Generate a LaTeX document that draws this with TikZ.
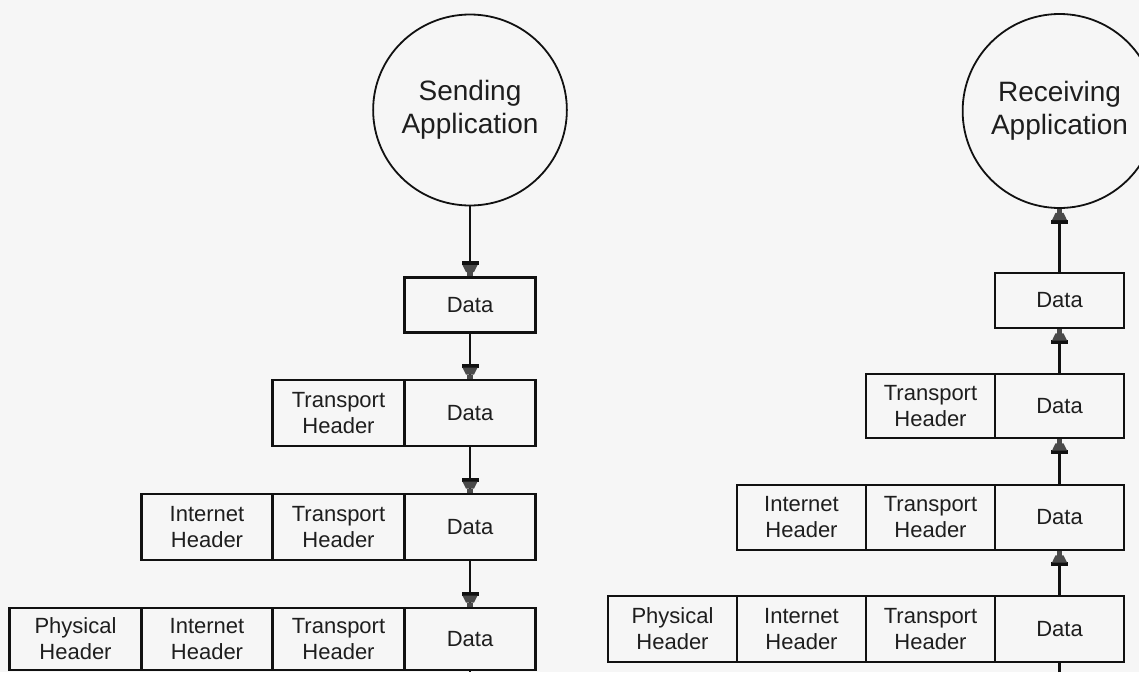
\documentclass[tikz,border=0pt]{standalone}
\usepackage{fontspec}
\setmainfont{Liberation Sans}
\usetikzlibrary{shapes.geometric}
\definecolor{linecol}{HTML}{111111}
\definecolor{txtcol}{HTML}{1E1E1E}
\definecolor{headgray}{HTML}{4A4A4A}
\definecolor{paper}{HTML}{F6F6F6}
\begin{document}
\begin{tikzpicture}[x=1pt,y=-1pt,
  cell/.style={draw=linecol, line width=2.6pt, rectangle, minimum height=66pt,
    inner sep=0pt, text=txtcol, font=\fontsize{22}{26}\selectfont, align=center},
  lcell/.style={cell, minimum width=131.5pt},
  rcell/.style={cell, minimum width=129pt},
  dcell/.style={minimum height=55pt},
  app/.style={ellipse, draw=linecol, line width=1.8pt, inner sep=0pt,
    text=txtcol, font=\fontsize{28}{33}\selectfont, align=center},
  conn/.style={draw=linecol, line width=2.4pt},
  ahead/.pic={
    \fill[linecol] (-15pt,-8.5pt) rectangle (-11pt,8.5pt);
    \fill[headgray] (-11.2pt,-7.5pt) -- (-11.2pt,7.5pt) -- (-4pt,4pt) -- (-4pt,-4pt) -- cycle;
    \fill[headgray] (-4.2pt,-2.6pt) rectangle (0pt,2.6pt);
  }
]
\useasboundingbox (0,0) rectangle (1139,672);
\fill[paper] (0,0) rectangle (1139,672);

% applications
\node[app, minimum width=172pt, minimum height=191pt] (send) at (470,110) {Sending\\Application};
\node[app, minimum width=166pt, minimum height=194pt] (recv) at (1059.5,111) {Receiving\\Application};

% left column (sending side)
\node[lcell, dcell] (l1d) at (470,305) {Data};
\node[lcell] (l2t) at (338.5,413) {Transport\\Header};
\node[lcell] (l2d) at (470,413) {Data};
\node[lcell] (l3i) at (207,527) {Internet\\Header};
\node[lcell] (l3t) at (338.5,527) {Transport\\Header};
\node[lcell] (l3d) at (470,527) {Data};
\node[lcell, minimum height=62pt] (l4p) at (75.5,639) {Physical\\Header};
\node[lcell, minimum height=62pt] (l4i) at (207,639) {Internet\\Header};
\node[lcell, minimum height=62pt] (l4t) at (338.5,639) {Transport\\Header};
\node[lcell, minimum height=62pt] (l4d) at (470,639) {Data};
\coordinate (lend) at (470,672);

% right column (receiving side)
\node[rcell, dcell] (r1d) at (1059.5,300.5) {Data};
\node[rcell, minimum height=64pt] (r2t) at (930.5,406) {Transport\\Header};
\node[rcell, minimum height=64pt] (r2d) at (1059.5,406) {Data};
\node[rcell, minimum height=65pt] (r3i) at (801.5,517.5) {Internet\\Header};
\node[rcell, minimum height=65pt] (r3t) at (930.5,517.5) {Transport\\Header};
\node[rcell, minimum height=65pt] (r3d) at (1059.5,517.5) {Data};
\node[rcell] (r4p) at (672.5,629) {Physical\\Header};
\node[rcell] (r4i) at (801.5,629) {Internet\\Header};
\node[rcell] (r4t) at (930.5,629) {Transport\\Header};
\node[rcell] (r4d) at (1059.5,629) {Data};
\coordinate (rstart) at (1059.5,672);

% connectors, sending side (downwards)
\draw[conn] (send.south) -- (l1d.north) pic[pos=1, sloped, allow upside down]{ahead};
\draw[conn] (l1d.south) -- (l2d.north) pic[pos=1, sloped, allow upside down]{ahead};
\draw[conn] (l2d.south) -- (l3d.north) pic[pos=1, sloped, allow upside down]{ahead};
\draw[conn] (l3d.south) -- (l4d.north) pic[pos=1, sloped, allow upside down]{ahead};
\draw[conn] (l4d.south) -- (lend);

% connectors, receiving side (upwards)
\draw[conn] (rstart) -- (r4d.south);
\draw[conn] (r4d.north) -- (r3d.south) pic[pos=1, sloped, allow upside down]{ahead};
\draw[conn] (r3d.north) -- (r2d.south) pic[pos=1, sloped, allow upside down]{ahead};
\draw[conn] (r2d.north) -- (r1d.south) pic[pos=1, sloped, allow upside down]{ahead};
\draw[conn] (r1d.north) -- (recv.south) pic[pos=1, sloped, allow upside down]{ahead};
\end{tikzpicture}
\end{document}
